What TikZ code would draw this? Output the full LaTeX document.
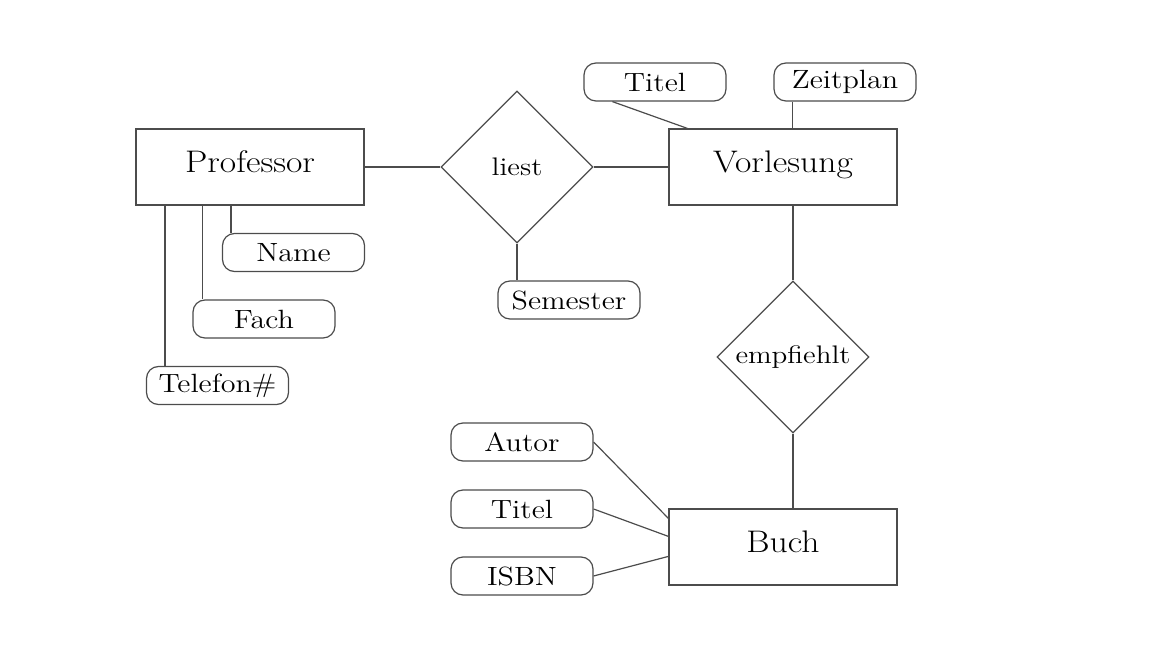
\documentclass[tikz,border=0pt]{standalone}
\usepackage{fontspec}
\setmainfont{Latin Modern Roman}[FakeStretch=1.14]
\usetikzlibrary{shapes.geometric}
\begin{document}
\begin{tikzpicture}[x=0.5pt,y=-0.5pt,
  conn/.style={draw=black!70,line width=0.6pt},
  entity/.style={draw=black!70,line width=0.6pt,rectangle,minimum width=114pt,minimum height=38pt,inner sep=0pt,
    font=\fontsize{15.6}{18}\selectfont,text height=0.7em,text depth=0.16em},
  attr/.style={draw=black!70,line width=0.6pt,rectangle,rounded corners=6pt,minimum width=71pt,minimum height=19pt,inner sep=0pt,
    font=\fontsize{13.2}{15}\selectfont},
  rel/.style={draw=black!70,line width=0.6pt,diamond,aspect=1,minimum width=76pt,minimum height=76pt,inner sep=0pt,
    font=\fontsize{12.7}{15}\selectfont}]
\useasboundingbox (0,0) rectangle (1167,652);
% entities
\node[entity] (prof) at (250,167) {Professor};
\node[entity] (vor) at (783,167) {Vorlesung};
\node[entity] (buch) at (783,547) {Buch};
% relations
\node[rel] (liest) at (517,167) {liest};
\node[rel] (empf) at (793,357) {empfiehlt};
% attributes
\node[attr] (name) at (293.5,252.5) {Name};
\node[attr] (fach) at (264,319) {Fach};
\node[attr] (tel) at (217.5,385.5) {Telefon\#};
\node[attr] (sem) at (569,300) {Semester};
\node[attr] (vtitel) at (655,82) {Titel};
\node[attr] (zeit) at (845,82) {Zeitplan};
\node[attr] (autor) at (522,442) {Autor};
\node[attr] (btitel) at (522,509) {Titel};
\node[attr] (isbn) at (522,576) {ISBN};
% connectors
\draw[conn] (prof.east) -- (liest.west);
\draw[conn] (liest.east) -- (vor.west);
\draw[conn] (liest.south) -- (liest.south |- sem.north);
\draw[conn] ([xshift=4.5pt]name.north west |- prof.south) -- ([xshift=4.5pt]name.north west);
\draw[conn] ([xshift=5pt]fach.north west |- prof.south) -- ([xshift=5pt]fach.north west);
\draw[conn] ([xshift=9.5pt]tel.north west |- prof.south) -- ([xshift=9.5pt]tel.north west);
\draw[conn] ([xshift=14.5pt]vtitel.south west) -- ([xshift=9.5pt]vor.north west);
\draw[conn] ([xshift=9.5pt]zeit.south west) -- ([xshift=9.5pt]zeit.south west |- vor.north);
\draw[conn] (empf.north |- vor.south) -- (empf.north);
\draw[conn] (empf.south) -- (empf.south |- buch.north);
\draw[conn] (autor.east) -- ([yshift=-5pt]buch.north west);
\draw[conn] (btitel.east) -- ([yshift=-14pt]buch.north west);
\draw[conn] (isbn.east) -- ([yshift=-24pt]buch.north west);
\end{tikzpicture}
\end{document}
